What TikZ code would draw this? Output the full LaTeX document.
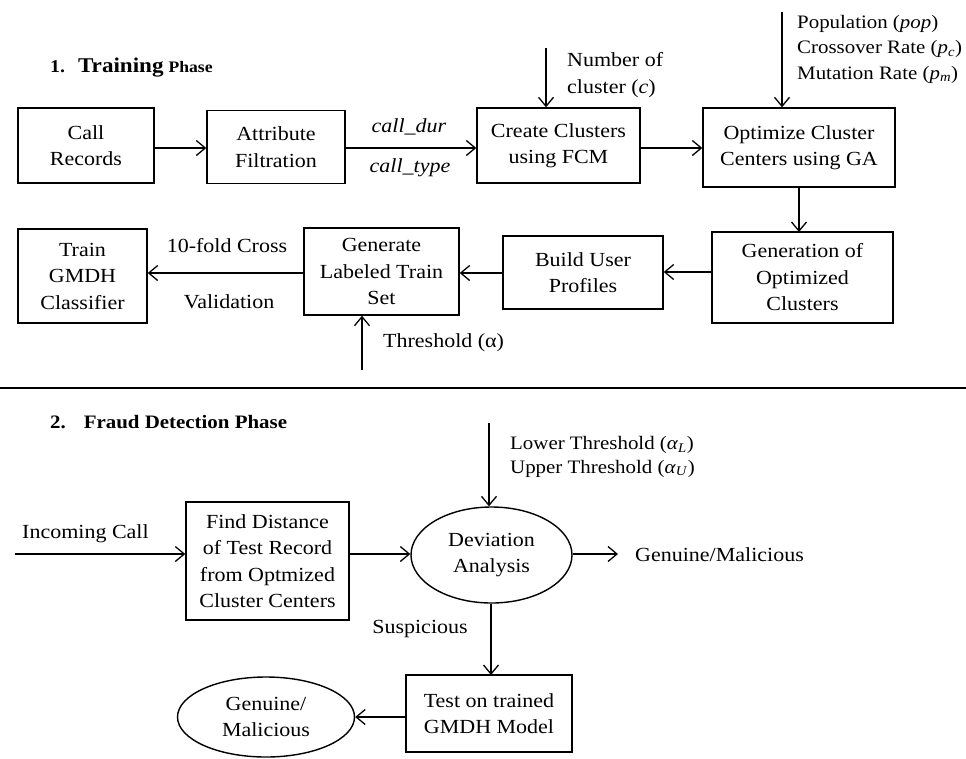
\documentclass[tikz,border=0pt]{standalone}
\usepackage{fontspec}
\setmainfont{Liberation Serif}[FakeStretch=1.1]
\usetikzlibrary{arrows.meta,shapes.geometric}
\begin{document}
\begin{tikzpicture}[x=1pt,y=-1pt,
  every node/.style={font=\fontsize{20}{26.5}\selectfont},
  box/.style={draw,line width=1.4pt,rectangle,align=center,inner sep=2pt},
  ell/.style={draw,line width=1.4pt,ellipse,align=center,inner sep=0pt},
  lbl/.style={align=left,inner sep=0pt},
  arr/.style={line width=1.3pt,-{Straight Barb[length=9pt,width=15pt,line width=1.3pt]}},
  hd/.style={anchor=base west,inner sep=0pt,font=\bfseries}]
\useasboundingbox (0,0) rectangle (966,758);
% headings
\node[hd] (h1) at (50,72) {\fontsize{18}{20}\selectfont 1.\hspace{13pt}{\fontsize{21}{22}\selectfont Training} {\fontsize{16}{18}\selectfont Phase}};
\node[hd] (h2) at (50,428) {\fontsize{19}{22}\selectfont 2.\hspace{18pt}Fraud Detection Phase};
\coordinate (sl) at (0,388); \coordinate (sr) at (966,388);
\draw[line width=1.8pt] (sl) -- (sr);
% training phase boxes
\node[box,minimum width=136pt,minimum height=75pt] (callrec) at (86,145.5) {Call\\Records};
\node[box,minimum width=138pt,minimum height=73pt] (attr) at (276,147) {Attribute\\Filtration};
\node[box,minimum width=163pt,minimum height=75pt] (fcm) at (558.5,145.5) {Create Clusters\\using FCM};
\node[box,minimum width=192pt,minimum height=79pt] (ga) at (799,147.5) {Optimize Cluster\\Centers using GA};
\node[box,minimum width=181pt,minimum height=91pt] (gen) at (802.5,277.5) {Generation of\\Optimized\\Clusters};
\node[box,minimum width=160pt,minimum height=73pt] (build) at (583,272.5) {Build User\\Profiles};
\node[box,minimum width=155pt,minimum height=87pt] (lab) at (381.5,271.5) {Generate\\Labeled Train\\Set};
\node[box,minimum width=129pt,minimum height=94pt] (train) at (82.5,276) {Train\\GMDH\\Classifier};
% training connectors
\draw[arr] (callrec.east |- 0,148) -- (attr.west |- 0,148);
\draw[arr] (attr.east |- 0,148) -- (fcm.west |- 0,148);
\node[lbl,anchor=base] (cdur) at (409,132) {\textit{call\_dur}};
\node[lbl,anchor=base] (ctype) at (410,172) {\textit{call\_type}};
\draw[arr] (fcm.east |- 0,148) -- (ga.west |- 0,148);
\coordinate (nc) at (546,48);
\draw[arr] (nc) -- (nc |- fcm.north);
\node[lbl,anchor=base west] (nctext) at (567,93) {Number of\\cluster (\textit{c})};
\coordinate (gatop) at (782,12);
\draw[arr] (gatop) -- (gatop |- ga.north);
\node[lbl,anchor=base west,font=\fontsize{19}{25.5}\selectfont] (gatext) at (797,79) {Population (\textit{pop})\\Crossover Rate (\textit{p}\textsubscript{\textit{c}})\\Mutation Rate (\textit{p}\textsubscript{\textit{m}})};
\draw[arr] (ga.south -| 799,0) -- (799,232);
\draw[arr] (gen.west |- 0,272) -- (build.east |- 0,272);
\draw[arr] (build.west |- 0,273) -- (lab.east |- 0,273);
\draw[arr] (lab.west |- 0,273) -- (train.east |- 0,273);
\node[lbl,anchor=base] (cv1) at (227,252) {10-fold Cross};
\node[lbl,anchor=base] (cv2) at (229,308) {Validation};
\coordinate (thb) at (362,370);
\draw[arr] (thb) -- (thb |- lab.south);
\node[lbl,anchor=base west] (thtext) at (383,347) {Threshold (α)};
% fraud phase
\node[lbl,anchor=west] (inc) at (22,534) {Incoming Call};
\node[box,minimum width=163pt,minimum height=118pt] (find) at (267.5,561) {Find Distance\\of Test Record\\from Optmized\\Cluster Centers};
\coordinate (incs) at (15,554);
\draw[arr] (incs) -- (incs -| find.west);
\node[ell,minimum width=161pt,minimum height=96pt] (dev) at (491.5,555) {Deviation\\Analysis};
\draw[arr] (find.east |- 0,554) -- (dev.west |- 0,554);
\coordinate (devtop) at (489,423);
\draw[arr] (devtop) -- (devtop |- dev.north);
\node[lbl,anchor=base west,font=\fontsize{19}{23.5}\selectfont] (thr2) at (510,473) {Lower Threshold (\textit{α}\textsubscript{\textit{L}})\\Upper Threshold (\textit{α}\textsubscript{\textit{U}})};
\coordinate (gmend) at (618,554);
\draw[arr] (dev.east |- 0,554) -- (gmend);
\node[lbl,anchor=base west] (gmtext) at (635,561) {Genuine/Malicious};
\node[box,minimum width=166pt,minimum height=77pt] (test) at (489,713.5) {Test on trained\\GMDH Model};
\draw[arr] (dev.south -| 491,0) -- (491,675);
\node[lbl,anchor=base] (susp) at (420,633) {Suspicious};
\node[ell,minimum width=177pt,minimum height=80pt] (gm) at (266,717) {Genuine/\\Malicious};
\draw[arr] (test.west |- 0,717) -- (gm.east);
\end{tikzpicture}
\end{document}
